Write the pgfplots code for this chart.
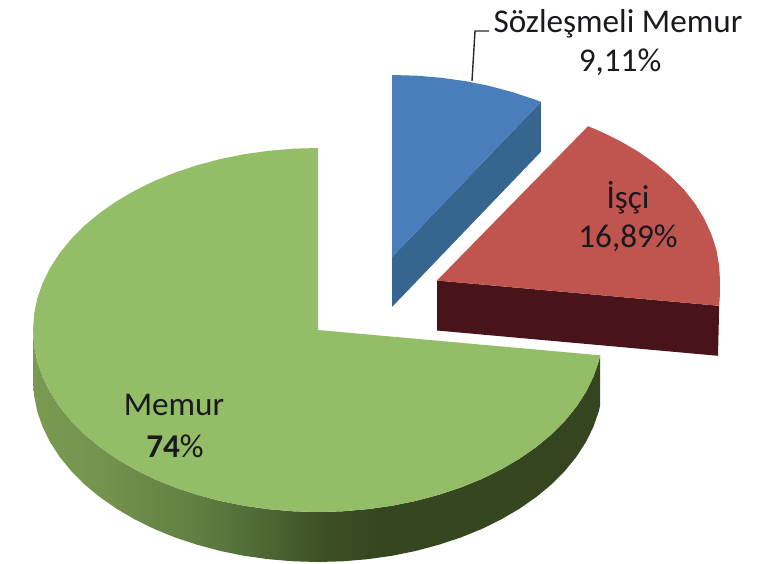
\documentclass[border=0pt]{standalone}
\usepackage{pgfplots}
\pgfplotsset{compat=1.18}
\usepackage{fontspec}
\setmainfont{Carlito}
\definecolor{gtop}{RGB}{148,189,103}
\definecolor{rtop}{RGB}{192,84,79}
\definecolor{rside}{RGB}{72,20,26}
\definecolor{btop}{RGB}{74,126,187}
\definecolor{bside}{RGB}{54,102,144}
\definecolor{lead}{RGB}{40,40,40}
\definecolor{txt}{RGB}{25,25,30}
\pgfdeclarehorizontalshading{greenside}{100bp}{
 rgb(0bp)=(0.478,0.604,0.322);
 rgb(25bp)=(0.478,0.604,0.322);
 rgb(31bp)=(0.455,0.576,0.306);
 rgb(39.75bp)=(0.373,0.494,0.251);
 rgb(46bp)=(0.298,0.396,0.200);
 rgb(50.5bp)=(0.235,0.314,0.145);
 rgb(55.5bp)=(0.212,0.275,0.122);
 rgb(100bp)=(0.204,0.267,0.122)}
\begin{document}
\begin{tikzpicture}
\begin{axis}[x=1pt,y=-1pt,xmin=0,xmax=772,ymin=0,ymax=563,hide axis,clip=true]
% page
\addplot[fill=white,draw=none] coordinates {(0,0)(772,0)(772,563)(0,563)};
% green side
\addplot[shading=greenside,draw=none] coordinates {
(600.2,355.3)(598.7,361.6)(593.3,377.1)(585.8,392.2)(576.3,406.9)(564.8,421)(551.5,434.4)(536.3,447)(519.5,458.7)(501.2,469.4)(481.5,479.1)(460.5,487.6)(438.4,494.9)(415.5,501)(391.8,505.8)(367.5,509.2)(342.8,511.3)(318,512)(293.2,511.3)(268.5,509.2)(244.2,505.8)(220.5,501)(197.6,494.9)(175.5,487.6)(154.5,479.1)(134.8,469.4)(116.5,458.7)(99.7,447)(84.5,434.4)(71.2,421)(59.7,406.9)(50.2,392.2)(42.7,377.1)(37.3,361.6)(34.1,345.9)(33,330)
(33,380)(34.1,395.9)(37.3,411.6)(42.7,427.1)(50.2,442.2)(59.7,456.9)(71.2,471)(84.5,484.4)(99.7,497)(116.5,508.7)(134.8,519.4)(154.5,529.1)(175.5,537.6)(197.6,544.9)(220.5,551)(244.2,555.8)(268.5,559.2)(293.2,561.3)(318,562)(342.8,561.3)(367.5,559.2)(391.8,555.8)(415.5,551)(438.4,544.9)(460.5,537.6)(481.5,529.1)(501.2,519.4)(519.5,508.7)(536.3,497)(551.5,484.4)(564.8,471)(576.3,456.9)(585.8,442.2)(593.3,427.1)(598.7,411.6)(600.2,405.3)};
% green top
\addplot[fill=gtop,draw=none] coordinates {
(318,330)(600.2,355.3)(598.7,361.6)(593.3,377.1)(585.8,392.2)(576.3,406.9)(564.8,421)(551.5,434.4)(536.3,447)(519.5,458.7)(501.2,469.4)(481.5,479.1)(460.5,487.6)(438.4,494.9)(415.5,501)(391.8,505.8)(367.5,509.2)(342.8,511.3)(318,512)(293.2,511.3)(268.5,509.2)(244.2,505.8)(220.5,501)(197.6,494.9)(175.5,487.6)(154.5,479.1)(134.8,469.4)(116.5,458.7)(99.7,447)(84.5,434.4)(71.2,421)(59.7,406.9)(50.2,392.2)(42.7,377.1)(37.3,361.6)(34.1,345.9)(33,330)(34.1,314.1)(37.3,298.4)(42.7,282.9)(50.2,267.8)(59.7,253.1)(71.2,239)(84.5,225.6)(99.7,213)(116.5,201.3)(134.8,190.6)(154.5,180.9)(175.5,172.4)(197.6,165.1)(220.5,159)(244.2,154.2)(268.5,150.8)(293.2,148.7)(318,148)(318,330)};
% red side
\addplot[fill=rside,draw=none] coordinates {(437,280.5)(719.2,305.8)(718,355.8)(437,330.5)(437,280.5)};
% red top
\addplot[fill=rtop,draw=none] coordinates {(437,280.5)(588,126.2)(600.5,131.4)(620.2,141.1)(638.5,151.8)(655.3,163.5)(670.5,176.1)(683.8,189.5)(695,203.6)(704,218.3)(711,233.4)(716.2,248.9)(719,264.6)(720,280.5)(719.8,296.4)(719.2,305.8)(437,280.5)};
% blue side
\addplot[fill=bside,draw=none] coordinates {(392,257)(540.9,101.8)(540.9,151.8)(392,307)(392,257)};
% blue top
\addplot[fill=btop,draw=none] coordinates {(392,257)(392,75)(416.8,75.7)(441.5,77.8)(465.8,81.2)(489.5,86)(512.4,92.1)(534.5,99.4)(540.9,101.8)(392,257)};
% leader
\addplot[draw=lead,line width=1.4pt] coordinates {(472,81)(475,31)(489,31)};
% labels
\node[txt,font=\fontsize{33.2}{37}\selectfont] at (axis cs:618,24) {Sözleşmeli Memur};
\node[txt,font=\fontsize{33.2}{37}\selectfont] at (axis cs:620,62) {9,11\%};
\node[txt,font=\fontsize{33.2}{37}\selectfont] at (axis cs:628,198) {İşçi};
\node[txt,font=\fontsize{33.2}{37}\selectfont] at (axis cs:628,238) {16,89\%};
\node[txt,font=\fontsize{33.2}{37}\selectfont] at (axis cs:174,405) {Memur};
\node[txt,font=\fontsize{33.2}{37}\selectfont] at (axis cs:175,446) {\textbf{74}\%};
\end{axis}
\end{tikzpicture}
\end{document}
